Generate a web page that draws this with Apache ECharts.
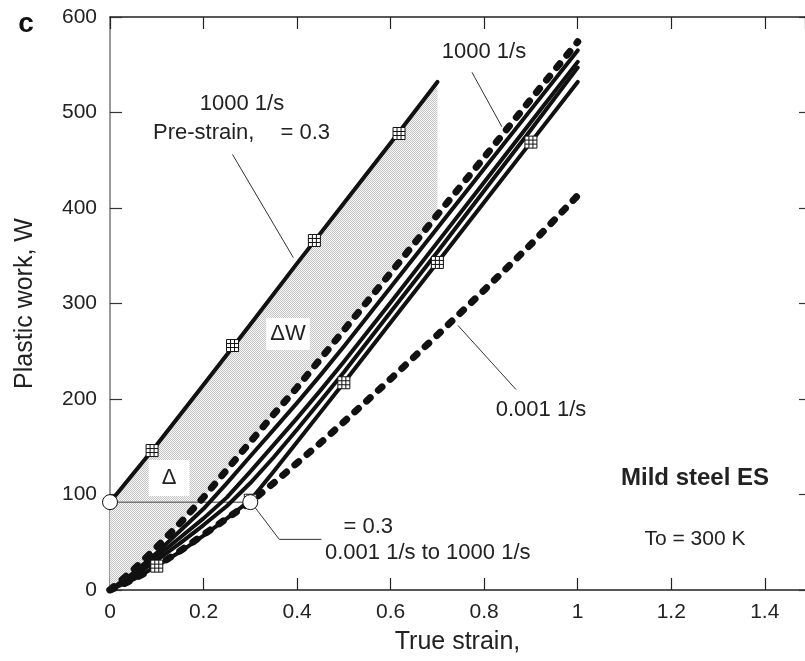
<!DOCTYPE html>
<html>
<head>
<meta charset="utf-8">
<script src="https://cdn.jsdelivr.net/npm/echarts@6/dist/echarts.min.js"></script>
<style>
html,body{margin:0;padding:0;background:#fff;}
#main{width:805px;height:661px;}
</style>
</head>
<body>
<div id="main"></div>
<script>
// ---- data ----
const strain = [0, 0.05, 0.1, 0.15, 0.2, 0.25, 0.3, 0.35, 0.4, 0.45, 0.5, 0.6, 0.7, 0.8, 0.9, 1.0];
const w1000dashed = [0, 21, 45, 70, 97, 126, 155, 184, 212, 242, 272, 332, 393, 453, 514, 574];
const wSolid1 = [0, 18, 39, 62, 85, 112, 140, 168, 196, 225, 255, 317, 379, 441, 503, 565];
const wSolid2 = [0, 16, 35, 55, 75, 97, 124, 152, 180, 209, 239, 301, 364, 427, 490, 553];
const wSolid3 = [0, 14, 31, 49, 68, 88, 112, 139, 168, 198, 228, 291, 354, 418, 482, 547];
const wJump = [0, 11, 25, 40, 57, 75, 94, 124, 155, 186, 217, 280, 343, 406, 469, 532];
const w0001dashed = [0, 11, 25, 41, 58, 75, 92, 112, 133, 154, 176, 221, 267, 314, 362, 413];

const preX = [0, 0.1, 0.2, 0.3, 0.4, 0.5, 0.6, 0.7];
const preW = [92, 152, 215, 278, 342, 405, 468, 532];

const preMarkX = [0.09, 0.262, 0.437, 0.618];
const preMarkW = [146, 256, 366, 478];
const jumpMarkX = [0.1, 0.3, 0.5, 0.7, 0.9];
const jumpMarkW = [25, 94, 217, 343, 469];

const circleX = [0, 0.3];
const circleW = [92, 92];

const xTicks = ['0', '0.2', '0.4', '0.6', '0.8', '1', '1.2', '1.4'];

// leader lines (data coordinates)
const leaders = [
  [[0.262, 456], [0.392, 348]],
  [[0.774, 542], [0.838, 485]],
  [[0.744, 277], [0.868, 210]],
  [[0.303, 91], [0.362, 53], [0.452, 53]]
];

// ---- helpers ----
const zip = (xs, ys) => xs.map((x, i) => [x, ys[i]]);
const FONT = "'Liberation Sans', Arial, Helvetica, sans-serif";

const pat = document.createElement('canvas');
pat.width = 2; pat.height = 2;
const pctx = pat.getContext('2d');
pctx.fillStyle = '#f7f7f7'; pctx.fillRect(0, 0, 2, 2);
pctx.fillStyle = '#c4c4c4'; pctx.fillRect(0, 0, 1, 1); pctx.fillRect(1, 1, 1, 1);

const chart = echarts.init(document.getElementById('main'), null, {renderer: 'canvas'});

function solid(data, w) {
  return {type: 'line', data: data, showSymbol: false, silent: true, z: 3,
    lineStyle: {color: '#111', width: w || 4, cap: 'round', join: 'round'}};
}
function dashed(data) {
  return {type: 'line', data: data, showSymbol: false, silent: true, z: 3,
    lineStyle: {color: '#111', width: 7, type: [5, 11], cap: 'round'}};
}

function gridMarker(params, api) {
  const p = api.coord([api.value(0), api.value(1)]);
  const s = 6;
  const x0 = p[0] - s, y0 = p[1] - s;
  const st = {stroke: '#111', lineWidth: 1};
  return {type: 'group', children: [
    {type: 'rect', shape: {x: x0, y: y0, width: 2 * s, height: 2 * s}, style: {fill: '#fff', stroke: '#111', lineWidth: 1}},
    {type: 'line', shape: {x1: x0 + 2 * s / 3, y1: y0, x2: x0 + 2 * s / 3, y2: y0 + 2 * s}, style: st},
    {type: 'line', shape: {x1: x0 + 4 * s / 3, y1: y0, x2: x0 + 4 * s / 3, y2: y0 + 2 * s}, style: st},
    {type: 'line', shape: {x1: x0, y1: y0 + 2 * s / 3, x2: x0 + 2 * s, y2: y0 + 2 * s / 3}, style: st},
    {type: 'line', shape: {x1: x0, y1: y0 + 4 * s / 3, x2: x0 + 2 * s, y2: y0 + 4 * s / 3}, style: st}
  ]};
}

const series = [];
// shaded ΔW region
series.push({
  type: 'custom', silent: true, z: 1, data: [[0, 0]],
  renderItem: function (params, api) {
    const pts = [];
    preX.forEach((x, i) => pts.push(api.coord([x, preW[i]])));
    for (let i = strain.length - 1; i >= 0; i--) {
      if (strain[i] <= 0.7 + 1e-9) pts.push(api.coord([strain[i], w1000dashed[i]]));
    }
    return {type: 'polygon', shape: {points: pts}, style: {fill: {image: pat, repeat: 'repeat'}}};
  }
});
// horizontal connector
series.push({type: 'line', data: zip(circleX, circleW), showSymbol: false, silent: true, z: 2,
  lineStyle: {color: '#777', width: 1.5}});
// leader lines
leaders.forEach(l => series.push({type: 'line', data: l, showSymbol: false, silent: true, z: 2,
  lineStyle: {color: '#333', width: 1}}));
// curves
series.push(dashed(zip(strain, w0001dashed)));
series.push(solid(zip(strain, wJump)));
series.push(solid(zip(strain, wSolid3)));
series.push(solid(zip(strain, wSolid2)));
series.push(solid(zip(strain, wSolid1)));
series.push(dashed(zip(strain, w1000dashed)));
series.push(solid(zip(preX, preW)));
// markers
series.push({type: 'custom', silent: true, z: 5, data: zip(preMarkX, preMarkW), renderItem: gridMarker});
series.push({type: 'custom', silent: true, z: 5, data: zip(jumpMarkX, jumpMarkW), renderItem: gridMarker});
// circles
series.push({type: 'scatter', data: zip(circleX, circleW), symbol: 'circle', symbolSize: 15, silent: true, z: 6,
  itemStyle: {color: '#fff', borderColor: '#111', borderWidth: 1, opacity: 1}});

const txt = (text, x, y, opts) => ({type: 'text', z: 100, style: Object.assign({
  text: text, x: x, y: y, font: '22px ' + FONT, fill: '#222', align: 'center', verticalAlign: 'middle'}, opts || {})});

const option = {
  animation: false,
  backgroundColor: '#fff',
  grid: {left: 110, top: 17, width: 697, height: 573, containLabel: false},
  xAxis: [{
    type: 'value', min: 0, max: 1.486, interval: 0.2, position: 'bottom',
    axisLine: {show: true, onZero: false, lineStyle: {color: '#222', width: 1.5}},
    axisTick: {show: true, inside: true, length: 12, lineStyle: {color: '#222', width: 1.2}},
    splitLine: {show: false},
    axisLabel: {show: true, fontSize: 21, color: '#222', fontFamily: FONT, margin: 12, showMaxLabel: false,
      formatter: v => { const i = Math.round(v / 0.2); return Math.abs(v - i * 0.2) < 1e-6 && i < xTicks.length ? xTicks[i] : ''; }},
    name: 'True strain,', nameLocation: 'middle', nameGap: 40,
    nameTextStyle: {fontSize: 25, color: '#222', fontFamily: FONT}
  }, {
    type: 'value', min: 0, max: 1.486, interval: 0.2, position: 'top',
    axisLine: {show: true, onZero: false, lineStyle: {color: '#222', width: 1.5}},
    axisTick: {show: true, inside: true, length: 12, lineStyle: {color: '#222', width: 1.2}},
    splitLine: {show: false}, axisLabel: {show: false}
  }],
  yAxis: [{
    type: 'value', min: 0, max: 600, interval: 100, position: 'left',
    axisLine: {show: true, onZero: false, lineStyle: {color: '#777', width: 1.5}},
    axisTick: {show: true, inside: true, length: 12, lineStyle: {color: '#333', width: 1.2}},
    splitLine: {show: false},
    axisLabel: {show: true, fontSize: 21, color: '#222', fontFamily: FONT, margin: 13},
    name: 'Plastic work, W', nameLocation: 'middle', nameGap: 72,
    nameTextStyle: {fontSize: 25, color: '#222', fontFamily: FONT}
  }, {
    type: 'value', min: 0, max: 600, interval: 100, position: 'right',
    axisLine: {show: false, onZero: false},
    axisTick: {show: true, inside: true, length: 6, lineStyle: {color: '#333', width: 1.2}},
    splitLine: {show: false}, axisLabel: {show: false}
  }],
  series: series,
  graphic: [
    txt('c', 26, 24, {font: 'bold 28px ' + FONT, fill: '#111'}),
    txt('1000 1/s', 242, 104),
    txt('Pre-strain,', 153, 133, {align: 'left'}),
    txt('= 0.3', 330, 133, {align: 'right'}),
    txt('1000 1/s', 484, 52),
    txt('\u0394W', 288, 334, {backgroundColor: '#fff', padding: [5, 4, 5, 4]}),
    txt('\u0394', 169, 478, {backgroundColor: '#fff', padding: [7, 13, 7, 13]}),
    txt('= 0.3', 393, 527, {align: 'right'}),
    txt('0.001 1/s to 1000 1/s', 325, 553, {align: 'left'}),
    txt('0.001 1/s', 541, 410),
    txt('Mild steel ES', 695, 478, {font: 'bold 24px ' + FONT, fill: '#222'}),
    txt('To = 300 K', 695, 539, {font: '21px ' + FONT})
  ]
};
chart.setOption(option);
</script>
</body>
</html>
